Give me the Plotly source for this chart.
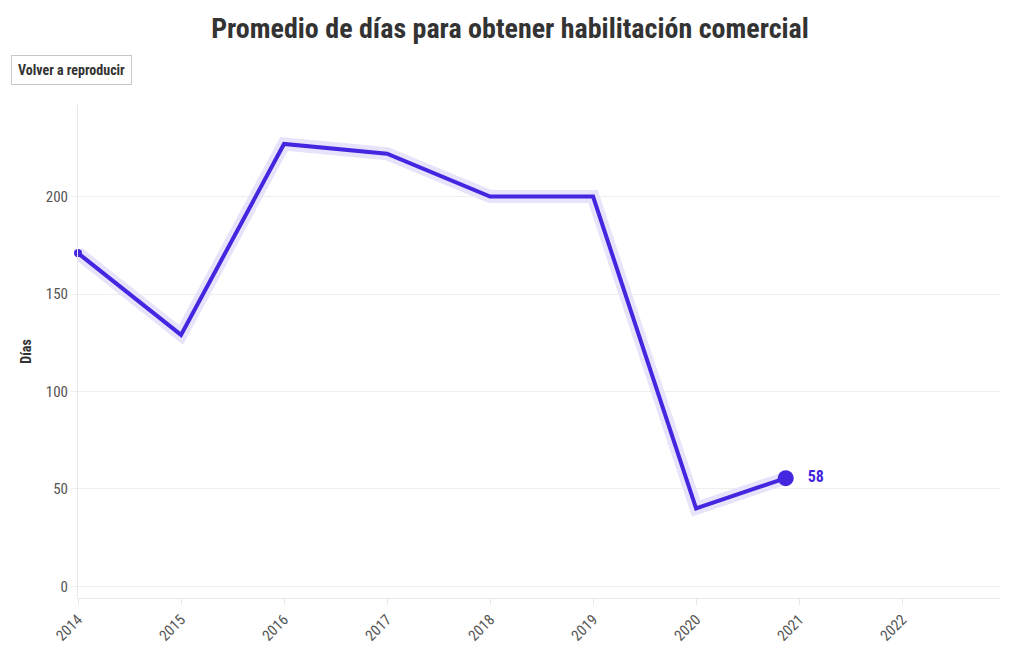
import plotly.graph_objects as go

years = [2014, 2015, 2016, 2017, 2018, 2019, 2020, 2020.87]
dias = [171, 129, 227, 222, 200, 200, 40, 55.5]
last_label = "58"
tick_years = [2014, 2015, 2016, 2017, 2018, 2019, 2020, 2021, 2022]
y_ticks = [0, 50, 100, 150, 200]

LINE = "#4326e0"
HALO = "#e6e3fb"
FONT = "Roboto Condensed, Liberation Sans Narrow, Roboto, sans-serif"

fig = go.Figure()
fig.add_trace(go.Scatter(x=years, y=dias, mode="lines", cliponaxis=False,
                         line=dict(color=HALO, width=13), hoverinfo="skip"))
fig.add_trace(go.Scatter(x=years, y=dias, mode="lines", cliponaxis=False,
                         line=dict(color=LINE, width=4)))
fig.add_trace(go.Scatter(x=[years[0]], y=[dias[0]], mode="markers", cliponaxis=False,
                         marker=dict(color=LINE, size=8)))
fig.add_trace(go.Scatter(x=[years[-1]], y=[dias[-1]], mode="markers+text", cliponaxis=False,
                         marker=dict(color=LINE, size=16),
                         text=["   " + last_label], textposition="middle right",
                         textfont=dict(color=LINE, size=16, family=FONT, weight="bold")))

fig.update_layout(
    width=1020, height=650,
    margin=dict(l=78, r=20, t=105, b=52),
    paper_bgcolor="white", plot_bgcolor="white",
    showlegend=False,
    font=dict(family=FONT, color="#555", size=15),
    title=dict(text="<b>Promedio de días para obtener habilitación comercial</b>",
               x=0.5, xanchor="center", y=0.957, yanchor="middle",
               font=dict(size=28, color="#333", family=FONT)),
    xaxis=dict(range=[2014, 2022.95], tickvals=tick_years, automargin=False,
               ticktext=[str(t) for t in tick_years], tickangle=-45,
               showgrid=False, showline=True, linecolor="#e8e8e8", linewidth=1,
               ticks="outside", ticklen=6, tickcolor="#e8e8e8", zeroline=False,
               tickfont=dict(size=15, color="#555")),
    yaxis=dict(range=[-6, 247], tickvals=y_ticks, showgrid=True, gridcolor="#eeeeee",
               automargin=False,
               showline=True, linecolor="#e8e8e8", linewidth=1, zeroline=False,
               ticks="outside", ticklen=6, tickcolor="#eeeeee",
               title=dict(text="<b>Días</b>", font=dict(size=14, color="#333"), standoff=10),
               tickfont=dict(size=15, color="#555")),
    annotations=[dict(text="<b>Volver a reproducir</b>", xref="paper", yref="paper",
                      x=-0.073, y=1.07, xanchor="left", yanchor="middle",
                      showarrow=False, bordercolor="#c8c8c8", borderwidth=1,
                      borderpad=6, bgcolor="white",
                      font=dict(size=14, color="#333", family=FONT))],
)

fig.write_html("out.html")
